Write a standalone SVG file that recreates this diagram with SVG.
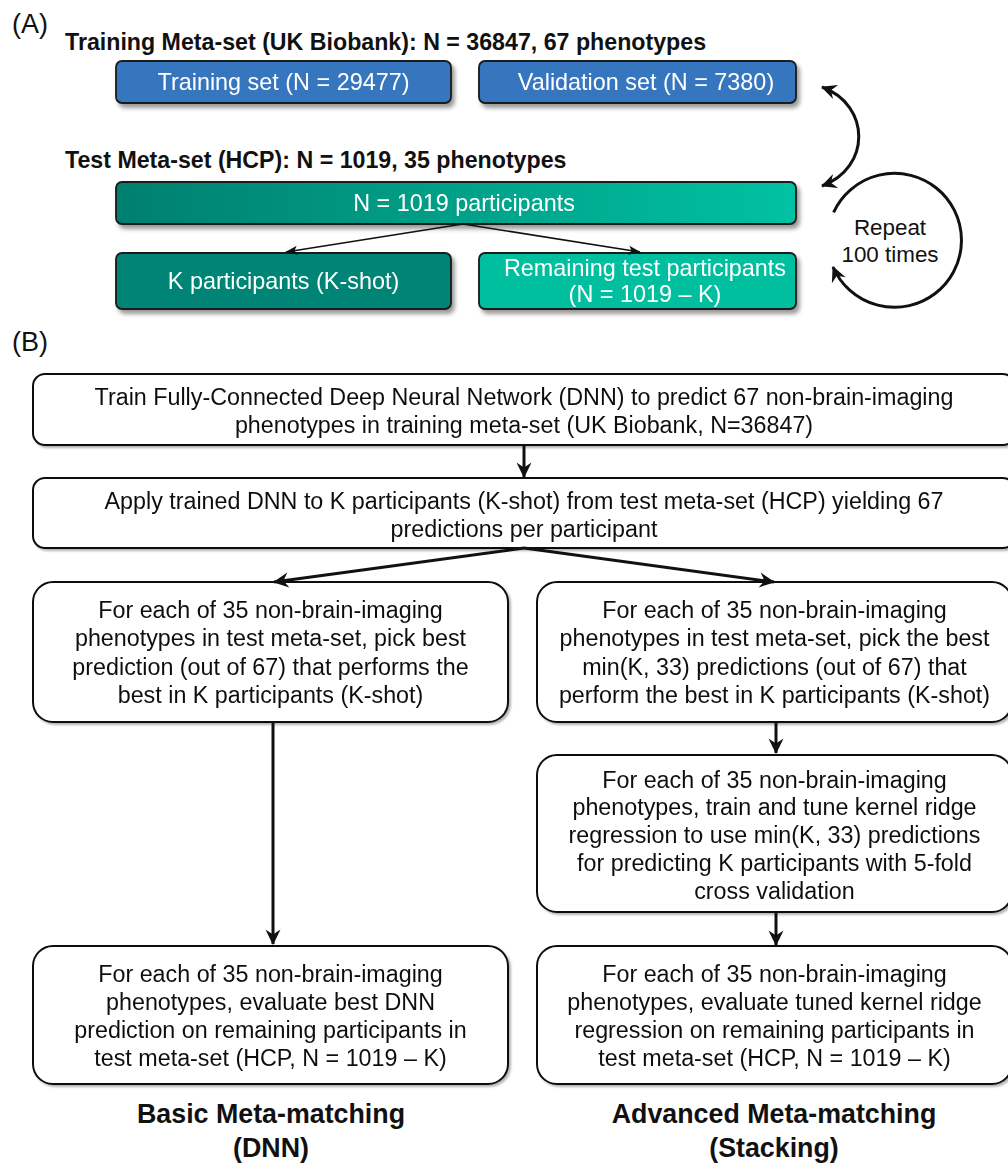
<svg xmlns="http://www.w3.org/2000/svg" width="1008" height="1165" viewBox="0 0 1008 1165">
<style>
.lbl{font-family:"Liberation Sans",Arial,sans-serif;font-size:27px;fill:#111}
.hdr{font-family:"Liberation Sans",Arial,sans-serif;font-size:23.2px;font-weight:bold;fill:#111}
.wt{font-family:"Liberation Sans",Arial,sans-serif;font-size:23.4px;fill:#fff;text-anchor:middle}
.bt{font-family:"Liberation Sans",Arial,sans-serif;font-size:23.3px;fill:#111;text-anchor:middle}
.rep{font-family:"Liberation Sans",Arial,sans-serif;font-size:22.4px;fill:#111;text-anchor:middle}
.ttl{font-family:"Liberation Sans",Arial,sans-serif;font-size:26.8px;font-weight:bold;fill:#111;text-anchor:middle}
.boxA{stroke:#1a1a1a;stroke-width:1.8}
.boxB{fill:#fff;stroke:#111;stroke-width:2}
.thin{fill:none;stroke:#111;stroke-width:1.6}
.thick{fill:none;stroke:#111;stroke-width:3}
</style>
<defs>
<linearGradient id="gN" x1="0" y1="0" x2="1" y2="0">
<stop offset="0" stop-color="#007f6e"/>
<stop offset="1" stop-color="#00c2a2"/>
</linearGradient>
<filter id="shA" x="-5%" y="-30%" width="115%" height="180%">
<feGaussianBlur in="SourceAlpha" stdDeviation="2"/>
<feOffset dx="3" dy="4"/>
<feComponentTransfer><feFuncA type="linear" slope="0.4"/></feComponentTransfer>
<feMerge><feMergeNode/><feMergeNode in="SourceGraphic"/></feMerge>
</filter>
<filter id="shB" x="-5%" y="-10%" width="115%" height="130%">
<feGaussianBlur in="SourceAlpha" stdDeviation="1"/>
<feOffset dx="1.5" dy="1.5"/>
<feComponentTransfer><feFuncA type="linear" slope="0.3"/></feComponentTransfer>
<feMerge><feMergeNode/><feMergeNode in="SourceGraphic"/></feMerge>
</filter>
<marker id="ahS" viewBox="0 0 12 10" markerWidth="12" markerHeight="10" refX="11.5" refY="5" orient="auto" markerUnits="userSpaceOnUse">
<path d="M12,5 L0,0.5 L3,5 L0,9.5 Z" fill="#111"/>
</marker>
<marker id="ahB" viewBox="0 0 17 17" markerWidth="17" markerHeight="17" refX="16" refY="8.5" orient="auto-start-reverse" markerUnits="userSpaceOnUse">
<path d="M17,8.5 L1.5,1 L6.5,8.5 L1.5,16 Z" fill="#111"/>
</marker>
</defs>

<text class="lbl" x="12" y="33">(A)</text>
<text class="hdr" x="65" y="50">Training Meta-set (UK Biobank): N = 36847, 67 phenotypes</text>
<text class="hdr" x="65" y="168">Test Meta-set (HCP): N = 1019, 35 phenotypes</text>

<g id="train" filter="url(#shA)">
<rect class="boxA" x="116" y="61" width="335" height="42" rx="6" fill="#3676bf"/>
<text class="wt" x="283.5" y="90">Training set (N = 29477)</text>
</g>
<g id="valid" filter="url(#shA)">
<rect class="boxA" x="479" y="61" width="317" height="42" rx="6" fill="#3676bf"/>
<text class="wt" x="646" y="90">Validation set (N = 7380)</text>
</g>
<g id="ntest" filter="url(#shA)">
<rect class="boxA" x="116" y="182" width="680" height="42" rx="6" fill="url(#gN)"/>
<text class="wt" x="464" y="211">N = 1019 participants</text>
</g>
<g id="kshot" filter="url(#shA)">
<rect class="boxA" x="116" y="253" width="335" height="56" rx="6" fill="#008474"/>
<text class="wt" x="283.5" y="289">K participants (K-shot)</text>
</g>
<g id="remain" filter="url(#shA)">
<rect class="boxA" x="479" y="253" width="317" height="56" rx="6" fill="#00bf9f"/>
<text class="wt" x="645" y="276">Remaining test participants</text>
<text class="wt" x="645" y="302">(N = 1019 – K)</text>
</g>
<g id="repeat">
<text class="rep" x="890" y="235">Repeat</text>
<text class="rep" x="890" y="262">100 times</text>
</g>

<text class="lbl" x="12" y="351">(B)</text>

<g id="b1" filter="url(#shB)">
<rect class="boxB" x="33" y="374" width="982" height="71" rx="12"/>
<text class="bt" x="524" y="405">Train Fully-Connected Deep Neural Network (DNN) to predict 67 non-brain-imaging</text>
<text class="bt" x="524" y="433">phenotypes in training meta-set (UK Biobank, N=36847)</text>
</g>
<g id="b2" filter="url(#shB)">
<rect class="boxB" x="33" y="478" width="982" height="70" rx="12"/>
<text class="bt" x="524" y="509">Apply trained DNN to K participants (K-shot) from test meta-set (HCP) yielding 67</text>
<text class="bt" x="524" y="537">predictions per participant</text>
</g>
<g id="b3l" filter="url(#shB)">
<rect class="boxB" x="33" y="582" width="475" height="140" rx="20"/>
<text class="bt" x="270.5" y="618">For each of 35 non-brain-imaging</text>
<text class="bt" x="270.5" y="646">phenotypes in test meta-set, pick best</text>
<text class="bt" x="270.5" y="675">prediction (out of 67) that performs the</text>
<text class="bt" x="270.5" y="703">best in K participants (K-shot)</text>
</g>
<g id="b3r" filter="url(#shB)">
<rect class="boxB" x="537" y="582" width="475" height="140" rx="20"/>
<text class="bt" x="774.5" y="618">For each of 35 non-brain-imaging</text>
<text class="bt" x="774.5" y="646">phenotypes in test meta-set, pick the best</text>
<text class="bt" x="774.5" y="675">min(K, 33) predictions (out of 67) that</text>
<text class="bt" x="774.5" y="703">perform the best in K participants (K-shot)</text>
</g>
<g id="b4r" filter="url(#shB)">
<rect class="boxB" x="537" y="755" width="475" height="157" rx="20"/>
<text class="bt" x="774.5" y="788">For each of 35 non-brain-imaging</text>
<text class="bt" x="774.5" y="815">phenotypes, train and tune kernel ridge</text>
<text class="bt" x="774.5" y="843">regression to use min(K, 33) predictions</text>
<text class="bt" x="774.5" y="871">for predicting K participants with 5-fold</text>
<text class="bt" x="774.5" y="899">cross validation</text>
</g>
<g id="b5l" filter="url(#shB)">
<rect class="boxB" x="33" y="946" width="475" height="138" rx="20"/>
<text class="bt" x="270.5" y="982">For each of 35 non-brain-imaging</text>
<text class="bt" x="270.5" y="1010">phenotypes, evaluate best DNN</text>
<text class="bt" x="270.5" y="1038">prediction on remaining participants in</text>
<text class="bt" x="270.5" y="1066">test meta-set (HCP, N = 1019 – K)</text>
</g>
<g id="b5r" filter="url(#shB)">
<rect class="boxB" x="537" y="946" width="475" height="138" rx="20"/>
<text class="bt" x="774.5" y="982">For each of 35 non-brain-imaging</text>
<text class="bt" x="774.5" y="1010">phenotypes, evaluate tuned kernel ridge</text>
<text class="bt" x="774.5" y="1038">regression on remaining participants in</text>
<text class="bt" x="774.5" y="1066">test meta-set (HCP, N = 1019 – K)</text>
</g>
<g id="titles">
<text class="ttl" x="271" y="1123">Basic Meta-matching</text>
<text class="ttl" x="271" y="1157">(DNN)</text>
<text class="ttl" x="774" y="1123">Advanced Meta-matching</text>
<text class="ttl" x="774" y="1157">(Stacking)</text>
</g>

<g id="connectors">
<path class="thin" d="M463,224 L286,252" marker-end="url(#ahS)"/>
<path class="thin" d="M463,224 L640,252" marker-end="url(#ahS)"/>
<path class="thick" d="M822,87 C871,105 871,168 822,186" marker-start="url(#ahB)" marker-end="url(#ahB)"/>
<path class="thick" d="M833.6,212.3 A67,67 0 1 1 833,267" marker-end="url(#ahB)"/>
<path class="thick" d="M524,445 L524,477" marker-end="url(#ahB)"/>
<path class="thick" d="M524,548 L274,582" marker-end="url(#ahB)"/>
<path class="thick" d="M524,548 L774,582" marker-end="url(#ahB)"/>
<path class="thick" d="M273,722 L273,944" marker-end="url(#ahB)"/>
<path class="thick" d="M776,722 L776,753" marker-end="url(#ahB)"/>
<path class="thick" d="M776,912 L776,945" marker-end="url(#ahB)"/>
</g>
</svg>
